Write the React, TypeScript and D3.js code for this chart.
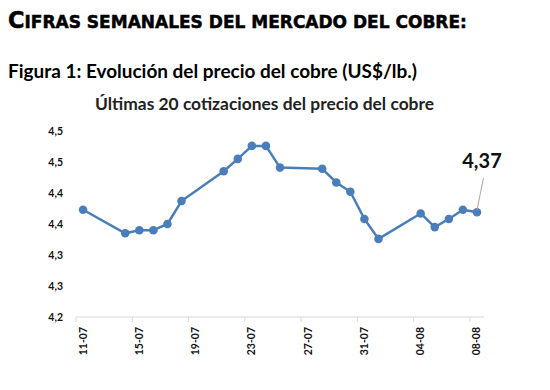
import React, { useRef, useEffect } from 'react';
import * as d3 from 'd3';

// cotizaciones (fecha dd-mm, 2025) y precio US$/lb
const dates = [
  '11-07', '14-07', '15-07', '16-07', '17-07', '18-07',
  '21-07', '22-07', '23-07', '24-07', '25-07',
  '28-07', '29-07', '30-07', '31-07', '01-08',
  '04-08', '05-08', '06-08', '07-08', '08-08',
];
const prices = [
  4.373, 4.335, 4.340, 4.340, 4.350, 4.387,
  4.435, 4.455, 4.476, 4.476, 4.441,
  4.439, 4.417, 4.402, 4.358, 4.326,
  4.367, 4.345, 4.358, 4.373, 4.369,
];
const yTicks = [4.2, 4.25, 4.3, 4.35, 4.4, 4.45, 4.5];
const lastLabel = '4,37';

const parseDay = (s: string) => {
  const [d, m] = s.split('-').map(Number);
  return new Date(2025, m - 1, d);
};

const App = () => {
  const svgRef = useRef<SVGSVGElement>(null);

  useEffect(() => {
    const svg = d3.select(svgRef.current);
    svg.selectAll('*').remove();

    const width = 550;
    const height = 390;
    const blue = '#4a7ebb';

    const x = d3.scaleTime()
      .domain([new Date(2025, 6, 11), new Date(2025, 7, 9)])
      .range([76, 484]);
    const y = d3.scaleLinear().domain([4.2, 4.5]).range([317, 131]);

    const pts = dates.map((d, i) => ({
      x: x(d3.timeHour.offset(parseDay(d), 12)),
      y: y(prices[i]),
    }));

    // headings
    const h = svg.append('text')
      .attr('x', 8).attr('y', 28)
      .attr('font-family', 'DejaVu Sans').attr('font-weight', 'bold')
      .attr('fill', '#000').attr('stroke', '#000').attr('stroke-width', 0.5);
    h.append('tspan').attr('font-size', 22.5).text('C');
    h.append('tspan').attr('font-size', 17).text('IFRAS SEMANALES DEL MERCADO DEL COBRE:');

    svg.append('text')
      .attr('x', 8).attr('y', 78)
      .attr('font-family', 'Lato').attr('font-weight', 'bold')
      .attr('font-size', 18)
      .attr('textLength', 409).attr('lengthAdjust', 'spacingAndGlyphs')
      .text('Figura 1: Evolución del precio del cobre (US$/lb.)');

    svg.append('text')
      .attr('x', 264.5).attr('y', 110)
      .attr('text-anchor', 'middle')
      .attr('font-family', 'Lato').attr('font-weight', 'bold')
      .attr('font-size', 17)
      .attr('textLength', 339).attr('lengthAdjust', 'spacingAndGlyphs')
      .attr('fill', '#222')
      .text('Últimas 20 cotizaciones del precio del cobre');

    // y axis labels (no line)
    svg.append('g')
      .selectAll('text')
      .data(yTicks)
      .join('text')
      .attr('x', 63).attr('y', d => y(d))
      .attr('dy', '0.35em')
      .attr('text-anchor', 'end')
      .attr('font-family', 'Lato').attr('font-weight', 'bold')
      .attr('font-size', 10.5).attr('fill', '#111')
      .text(d => (Math.round(d * 10 + 1e-6) / 10).toFixed(1).replace('.', ','));

    // x axis
    const tickDays = d3.range(0, 29, 4).map(k => d3.timeDay.offset(new Date(2025, 6, 11), k));
    const gx = svg.append('g');
    gx.append('line')
      .attr('x1', x.range()[0]).attr('x2', x.range()[1])
      .attr('y1', 317).attr('y2', 317)
      .attr('stroke', '#d9d9d9').attr('stroke-width', 1);
    gx.selectAll('line.tick')
      .data(tickDays)
      .join('line')
      .attr('class', 'tick')
      .attr('x1', d => x(d)).attr('x2', d => x(d))
      .attr('y1', 317).attr('y2', 322)
      .attr('stroke', '#d9d9d9');
    gx.selectAll('text')
      .data(tickDays)
      .join('text')
      .attr('transform', d => `translate(${x(d3.timeHour.offset(d, 12)) + 3.5},327) rotate(-90)`)
      .attr('text-anchor', 'end')
      .attr('font-family', 'Lato').attr('font-weight', 'bold')
      .attr('font-size', 10.5).attr('fill', '#111')
      .text(d => d3.timeFormat('%d-%m')(d));

    // line + markers
    const line = d3.line<{ x: number; y: number }>().x(d => d.x).y(d => d.y);
    svg.append('path')
      .datum(pts)
      .attr('d', line)
      .attr('fill', 'none')
      .attr('stroke', blue)
      .attr('stroke-width', 2.5)
      .attr('stroke-linejoin', 'round');
    svg.append('g')
      .selectAll('circle')
      .data(pts)
      .join('circle')
      .attr('cx', d => d.x).attr('cy', d => d.y)
      .attr('r', 4.3)
      .attr('fill', blue);

    // label for last value
    const last = pts[pts.length - 1];
    svg.append('line')
      .attr('x1', last.x).attr('y1', last.y - 2)
      .attr('x2', last.x + 6.5).attr('y2', 178)
      .attr('stroke', '#a6a6a6').attr('stroke-width', 1);
    svg.append('text')
      .attr('x', 482).attr('y', 168)
      .attr('text-anchor', 'middle')
      .attr('font-family', 'Lato').attr('font-weight', 'bold')
      .attr('font-size', 20).attr('fill', '#111')
      .text(lastLabel);

    svg.attr('width', width).attr('height', height);
  }, []);

  return <svg ref={svgRef} style={{ position: 'absolute', left: 0, top: 0 }}></svg>;
};

export default App;
